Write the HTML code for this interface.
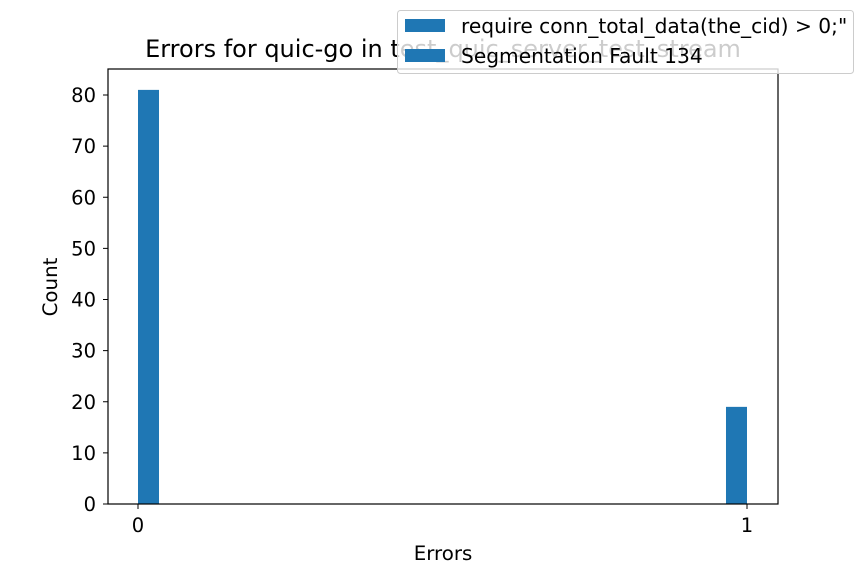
<!DOCTYPE html>
<html><head><meta charset="utf-8"><style>
html,body{margin:0;padding:0;background:#fff;}
svg{display:block;font-family:"DejaVu Sans","Liberation Sans",sans-serif;}
</style></head><body>
<svg id="chart" width="864" height="576" viewBox="0 0 864 576">
<rect width="864" height="576" fill="#fff"/>
<text x="443" y="57" font-size="24" text-anchor="middle" fill="#000">Errors for quic-go in test_quic_server_test_stream</text>
<g id="plot"></g>
<rect x="108" y="69" width="670" height="435" fill="none" stroke="#000" stroke-width="1.2"/>
<text x="443" y="560" font-size="19.8" text-anchor="middle">Errors</text>
<text transform="translate(57,287) rotate(-90)" font-size="19.8" text-anchor="middle">Count</text>
<g>
<rect x="397.5" y="10.5" width="456" height="63" rx="3" fill="#fff" fill-opacity="0.8" stroke="#ccc"/>
<rect x="405" y="19" width="40" height="13" fill="#1f77b4"/>
<text x="461" y="33" font-size="20.2">require conn_total_data(the_cid) &gt; 0;"</text>
<rect x="405" y="49" width="40" height="13" fill="#1f77b4"/>
<text x="461" y="63" font-size="20.2">Segmentation Fault 134</text>
</g>
</svg>
<script>
const categories = [0, 1];
const counts = [81, 19];
const binWidth = 0.0345;
const yTicks = [0, 10, 20, 30, 40, 50, 60, 70, 80];
const xTicks = [0, 1];
const xs = v => 138 + v * 609;
const ys = v => 504 - v * 5.1125;
const NS = "http://www.w3.org/2000/svg";
const g = document.getElementById('plot');
function mk(t, a){const e=document.createElementNS(NS,t);for(const k in a)e.setAttribute(k,a[k]);g.appendChild(e);return e;}
categories.forEach((c,i)=>{
  const x0 = c===0 ? xs(c) : xs(c-binWidth);
  const w = xs(binWidth)-xs(0);
  const r = mk('rect',{x:x0,y:ys(counts[i]),width:w,height:ys(0)-ys(counts[i]),fill:'#1f77b4'});
  
  
});
yTicks.forEach(v=>{
  const l = mk('line',{x1:108,x2:103,y1:ys(v),y2:ys(v),stroke:'#000','stroke-width':1});
  
  
  const t = mk('text',{x:96,y:ys(v)+7,'font-size':19.5,'text-anchor':'end'});
  t.textContent = v;
  
  
});
xTicks.forEach(v=>{
  const l = mk('line',{x1:xs(v),x2:xs(v),y1:504,y2:509,stroke:'#000','stroke-width':1});
  
  
  const t = mk('text',{x:xs(v),y:532,'font-size':19.5,'text-anchor':'middle'});
  t.textContent = v;
  
  
});
</script>
</body></html>
